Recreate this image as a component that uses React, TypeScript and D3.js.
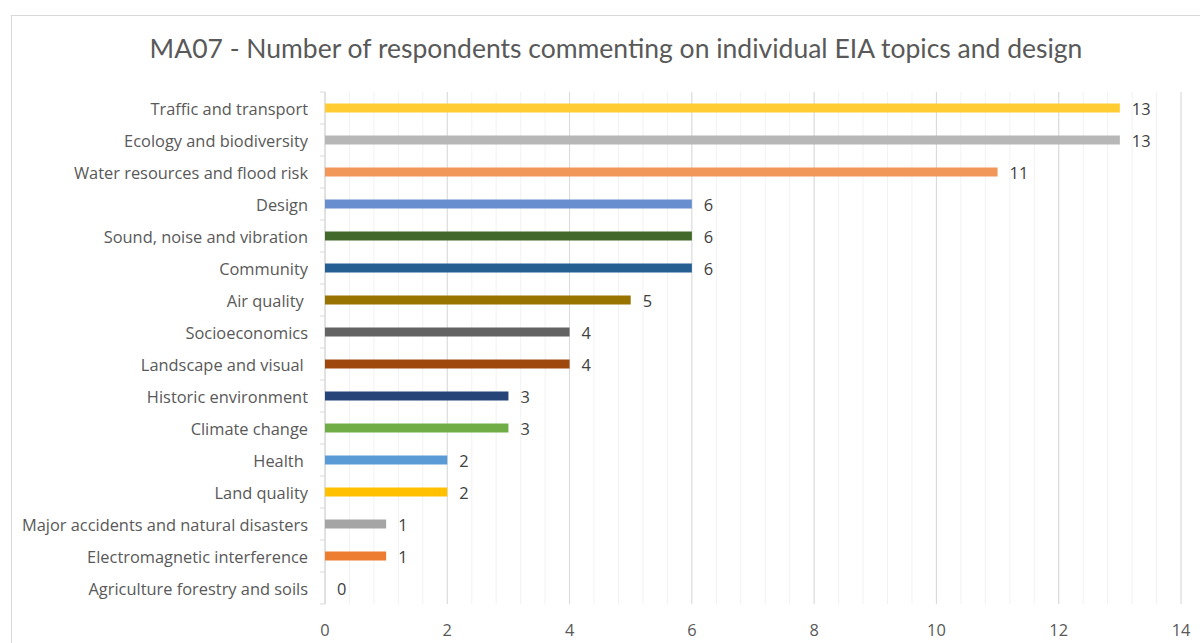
import React from "react";
import * as d3 from "d3";

const categories = [
  "Traffic and transport",
  "Ecology and biodiversity",
  "Water resources and flood risk",
  "Design",
  "Sound, noise and vibration",
  "Community",
  "Air quality ",
  "Socioeconomics",
  "Landscape and visual ",
  "Historic environment",
  "Climate change",
  "Health ",
  "Land quality",
  "Major accidents and natural disasters",
  "Electromagnetic interference",
  "Agriculture forestry and soils",
];
const values = [13, 13, 11, 6, 6, 6, 5, 4, 4, 3, 3, 2, 2, 1, 1, 0];
const colors = [
  "#FFCD33", "#B7B7B7", "#F1975A", "#698ED0", "#43682B", "#255E91",
  "#997300", "#636363", "#9E480E", "#264478", "#70AD47", "#5B9BD5",
  "#FFC000", "#A5A5A5", "#ED7D31", "#4472C4",
];
const xTicks = [0, 2, 4, 6, 8, 10, 12, 14];
const title = "MA07 - Number of respondents commenting on individual EIA topics and design";

const W = 1200, H = 643;
const FONT = "'Open Sans', Lato, sans-serif";
const TFONT = "Lato, 'Open Sans', sans-serif";

export default function App() {
  const x = d3.scaleLinear().domain([0, 14]).range([325, 1181]);
  const y = d3.scaleBand<string>().domain(categories).range([92, 604]);
  const minor = d3.range(0, 14.0001, 0.4).map((v) => +v.toFixed(2));
  const barH = 9;
  return (
    <svg width={W} height={H} style={{ position: "absolute", left: 0, top: 0, background: "#fff" }}>
      <rect x={11.5} y={15.5} width={W + 20} height={H + 20} fill="#fff" stroke="#D9D9D9" />
      <text x={616} y={58} textAnchor="middle" fontFamily={TFONT} fontSize={26.5} fill="#595959">{title}</text>
      {minor.map((v, i) => (
        <line key={"m" + i} x1={x(v)} x2={x(v)} y1={92} y2={604} stroke="#F2F2F2" strokeWidth={1} />
      ))}
      {xTicks.map((v) => (
        <line key={"g" + v} x1={x(v)} x2={x(v)} y1={92} y2={604} stroke="#D9D9D9" strokeWidth={1} />
      ))}
      <line x1={x(0)} x2={x(0)} y1={92} y2={604} stroke="#D9D9D9" />
      {d3.range(categories.length + 1).map((i) => {
        const yy = 92 + i * y.step();
        return <line key={"t" + i} x1={x(0) - 5} x2={x(0)} y1={yy} y2={yy} stroke="#D9D9D9" />;
      })}
      {categories.map((c, i) => {
        const cy = (y(c) as number) + y.bandwidth() / 2;
        return (
          <g key={c}>
            <rect x={x(0)} y={cy - barH / 2} width={x(values[i]) - x(0)} height={barH} fill={colors[i]} />
            <text x={x(0) - 17} y={cy + 1} dy="0.35em" textAnchor="end" fontFamily={FONT} fontSize={16.4} fill="#595959" style={{ whiteSpace: "pre" }}>{c}</text>
            <text x={x(values[i]) + 12} y={cy + 1} dy="0.35em" fontFamily={FONT} fontSize={16.4} fill="#404040">{values[i]}</text>
          </g>
        );
      })}
      {xTicks.map((v) => (
        <text key={"l" + v} x={x(v)} y={630} dy="0.35em" textAnchor="middle" fontFamily={FONT} fontSize={16.4} fill="#595959">{v}</text>
      ))}
    </svg>
  );
}
